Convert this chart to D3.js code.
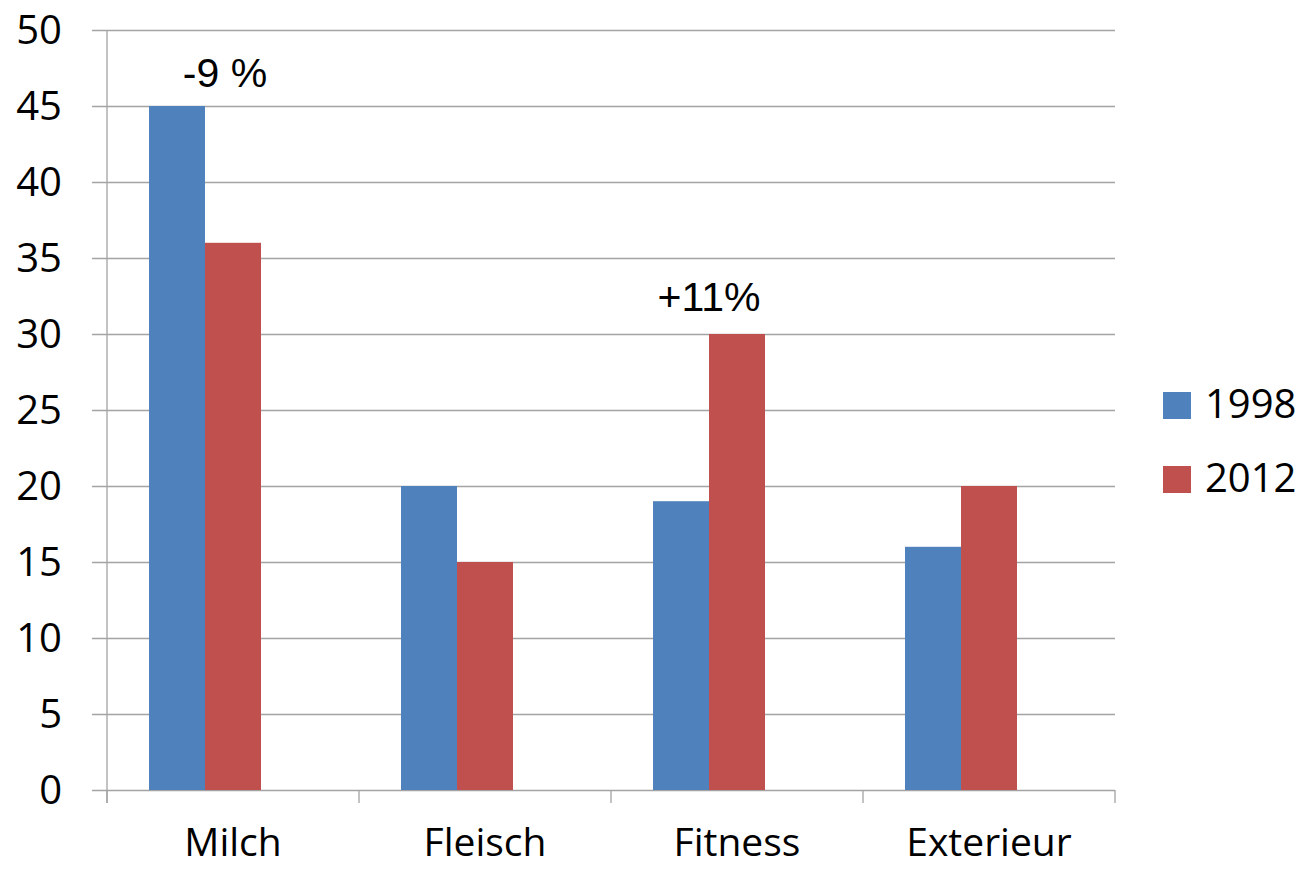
<!DOCTYPE html>
<html>
<head>
<meta charset="utf-8">
<script src="https://cdn.jsdelivr.net/npm/d3@7"></script>
<style>
  html, body { margin: 0; padding: 0; background: #fff; }
  svg { display: block; }
</style>
</head>
<body>
<svg id="chart" width="1304" height="869"></svg>
<script>
// Categories and series
const categories = ["Milch", "Fleisch", "Fitness", "Exterieur"];
const seriesNames = ["1998", "2012"];
const values1998 = [45, 20, 19, 16];
const values2012 = [36, 15, 30, 20];
const yTicks = [0, 5, 10, 15, 20, 25, 30, 35, 40, 45, 50];
// Change annotations above the bar pairs
const annotations = [
  { category: "Milch", text: "-9 %", value: 45 },
  { category: "Fitness", text: "+11%", value: 30 }
];

const colors = { "1998": "#4F81BD", "2012": "#C0504D" };
const gridColor = "#a3a3a3";
const labelFont = "'Open Sans', sans-serif";

const svg = d3.select("#chart");
const plot = { left: 107, right: 1115, top: 30, bottom: 790 };

const x0 = d3.scaleBand().domain(categories).range([plot.left, plot.right]).padding(0);
const y = d3.scaleLinear().domain([0, 50]).range([plot.bottom, plot.top]);

// Bars occupy two of three slots, gap width 150%
const barW = x0.bandwidth() / 4.5;
const offset = 0.75 * barW;
const x1 = d3.scaleBand().domain(seriesNames).range([offset, offset + 2 * barW]).padding(0);

// Gridlines with ticks to the left of the axis
const yAxis = d3.axisLeft(y).tickValues(yTicks).tickSize(-(plot.right - plot.left)).tickFormat(d3.format("d")).tickPadding(0);
const gy = svg.append("g").attr("transform", `translate(${plot.left},0)`).call(yAxis);
gy.select(".domain").remove();
gy.selectAll(".tick line").attr("stroke", gridColor).attr("stroke-width", 1.3).attr("x1", -15);
gy.selectAll(".tick text")
  .attr("x", -45)
  .attr("dy", "0.34em")
  .attr("fill", "#000")
  .style("font-family", labelFont)
  .style("font-size", "40px");

// Vertical axis line
svg.append("line")
  .attr("x1", plot.left).attr("x2", plot.left)
  .attr("y1", plot.top).attr("y2", plot.bottom + 13)
  .attr("stroke", gridColor).attr("stroke-width", 1.3);

// Category separator ticks
const boundaries = categories.map(c => x0(c)).concat([plot.right]);
svg.append("g").selectAll("line").data(boundaries).join("line")
  .attr("x1", d => d).attr("x2", d => d)
  .attr("y1", plot.bottom).attr("y2", plot.bottom + 13)
  .attr("stroke", gridColor).attr("stroke-width", 1.3);

// Category labels
svg.append("g").selectAll("text").data(categories).join("text")
  .attr("x", d => x0(d) + x0.bandwidth() / 2)
  .attr("y", 856)
  .attr("text-anchor", "middle")
  .style("font-family", labelFont)
  .style("font-size", "39px")
  .attr("fill", "#000")
  .text(d => d);

// Bars
const rows = categories.map((c, i) => ({ category: c, "1998": values1998[i], "2012": values2012[i] }));
const groups = svg.append("g").selectAll("g").data(rows).join("g")
  .attr("transform", d => `translate(${x0(d.category)},0)`);
groups.selectAll("rect")
  .data(d => seriesNames.map(s => ({ key: s, value: d[s] })))
  .join("rect")
  .attr("x", d => x1(d.key))
  .attr("y", d => y(d.value))
  .attr("width", x1.bandwidth())
  .attr("height", d => y(0) - y(d.value))
  .attr("fill", d => colors[d.key]);

// Annotation text
svg.append("g").selectAll("text").data(annotations).join("text")
  .attr("x", d => x0(d.category) + offset + barW + (d.category === "Milch" ? 20 : 0))
  .attr("y", d => y(d.value) - 19 - (d.category === "Milch" ? 0 : 4))
  .attr("text-anchor", "middle")
  .style("font-family", "'Liberation Sans', Arial, sans-serif")
  .style("font-size", "41px")
  .attr("fill", "#000")
  .text(d => d.text);

// Legend
const legend = svg.append("g").selectAll("g").data(seriesNames).join("g")
  .attr("transform", (d, i) => `translate(1163,${392 + i * 74})`);
legend.append("rect").attr("width", 28).attr("height", 27).attr("fill", d => colors[d]);
legend.append("text")
  .attr("x", 42).attr("y", 26)
  .style("font-family", labelFont)
  .style("font-size", "40px")
  .attr("fill", "#000")
  .text(d => d);
</script>
</body>
</html>
